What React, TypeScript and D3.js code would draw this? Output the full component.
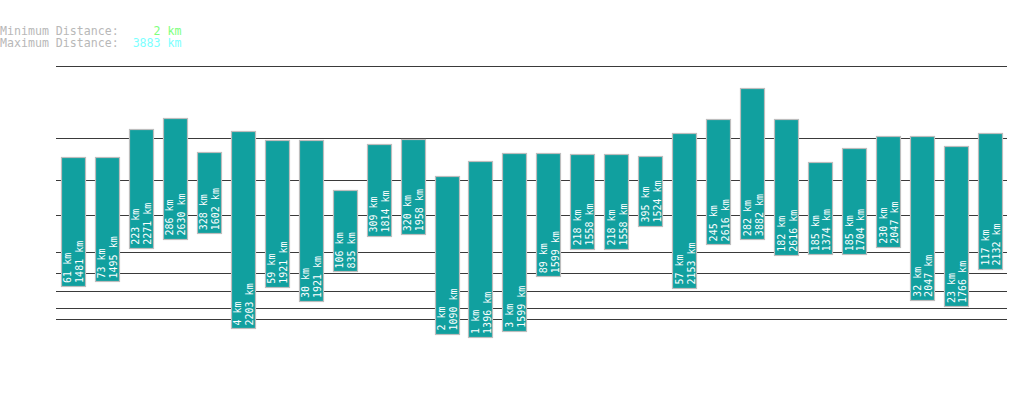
import { useEffect, useRef } from 'react';
import * as d3 from 'd3';

// min / max distance per bar (km)
const minDistances = [61, 73, 223, 286, 328, 4, 59, 30, 106, 309, 320, 2, 1, 3, 89, 218, 218, 395, 57, 245, 282, 182, 185, 185, 230, 32, 23, 117];
const maxDistances = [1481, 1495, 2271, 2630, 1602, 2203, 1921, 1921, 835, 1814, 1958, 1090, 1396, 1599, 1599, 1558, 1558, 1524, 2153, 2616, 3882, 2616, 1374, 1704, 2047, 2047, 1766, 2132];
const gridValues = [10, 20, 50, 100, 200, 500, 1000, 2000, 5000];
const overallMin = 2;
const overallMax = 3883;

const App = () => {
  const svgRef = useRef<SVGSVGElement>(null);

  useEffect(() => {
    if (!svgRef.current) return;
    document.body.style.margin = '0';
    const svg = d3.select(svgRef.current);
    svg.selectAll('*').remove();

    const width = 1019;
    const height = 402;
    const left = 56;
    const right = 1007;
    const offset = 1.5; // keeps tiny distances off the floor of the power scale

    const x = d3.scaleBand<number>()
      .domain(d3.range(minDistances.length))
      .range([left, right])
      .paddingInner(0.29)
      .paddingOuter(0.145);

    const yPow = d3.scalePow()
      .exponent(0.295)
      .domain([0, 5000 + offset])
      .range([369.1, 66]);
    const y = (v: number) => yPow(v + offset);

    svg.attr('width', width).attr('height', height);

    // header
    const header = svg.append('g')
      .style('font-family', '"DejaVu Sans Mono", "Liberation Mono", monospace')
      .style('font-size', '11.6px');
    const rows = [
      { label: 'Minimum Distance:', value: `${overallMin} km`, color: '#7dff7d' },
      { label: 'Maximum Distance:', value: `${overallMax} km`, color: '#7dffff' },
    ];
    rows.forEach((r, i) => {
      const t = header.append('text')
        .attr('x', 0)
        .attr('y', 35 + i * 12)
        .attr('xml:space', 'preserve')
        .style('white-space', 'pre');
      t.append('tspan').attr('fill', '#b8b8b8').text(r.label);
      t.append('tspan').attr('fill', r.color).text(r.value.padStart(9, ' '));
    });

    // gridlines
    svg.selectAll('line.grid')
      .data(gridValues)
      .enter()
      .append('line')
      .attr('class', 'grid')
      .attr('x1', left)
      .attr('x2', right)
      .attr('y1', d => Math.round(y(d)) + 0.5)
      .attr('y2', d => Math.round(y(d)) + 0.5)
      .attr('stroke', '#3a3a3a')
      .attr('stroke-width', 1);

    const idx = d3.range(minDistances.length);

    // bars
    svg.selectAll('rect.bar')
      .data(idx)
      .enter()
      .append('rect')
      .attr('class', 'bar')
      .attr('x', i => Math.round(x(i)!) + 0.5)
      .attr('y', i => Math.round(y(maxDistances[i])) + 0.5)
      .attr('width', Math.round(x.bandwidth()))
      .attr('height', i => Math.round(y(minDistances[i])) - Math.round(y(maxDistances[i])))
      .attr('fill', '#11a09f')
      .attr('stroke', '#bdbdbd')
      .attr('stroke-width', 1.2);

    // rotated labels
    const labels = svg.selectAll('g.label')
      .data(idx)
      .enter()
      .append('g')
      .attr('class', 'label')
      .style('font-family', '"DejaVu Sans Mono", "Liberation Mono", monospace')
      .style('font-size', '10px')
      .attr('fill', '#ffffff');
    labels.append('text')
      .attr('transform', i => `translate(${x(i)! + x.bandwidth() / 2 - 1.5}, ${y(minDistances[i]) - 3}) rotate(-90)`)
      .text(i => `${minDistances[i]} km`);
    labels.append('text')
      .attr('transform', i => `translate(${x(i)! + x.bandwidth() / 2 + 10.3}, ${y(minDistances[i]) - 3}) rotate(-90)`)
      .text(i => `${maxDistances[i]} km`);
  }, []);

  return <svg ref={svgRef} style={{ display: 'block' }} />;
};

export default App;
